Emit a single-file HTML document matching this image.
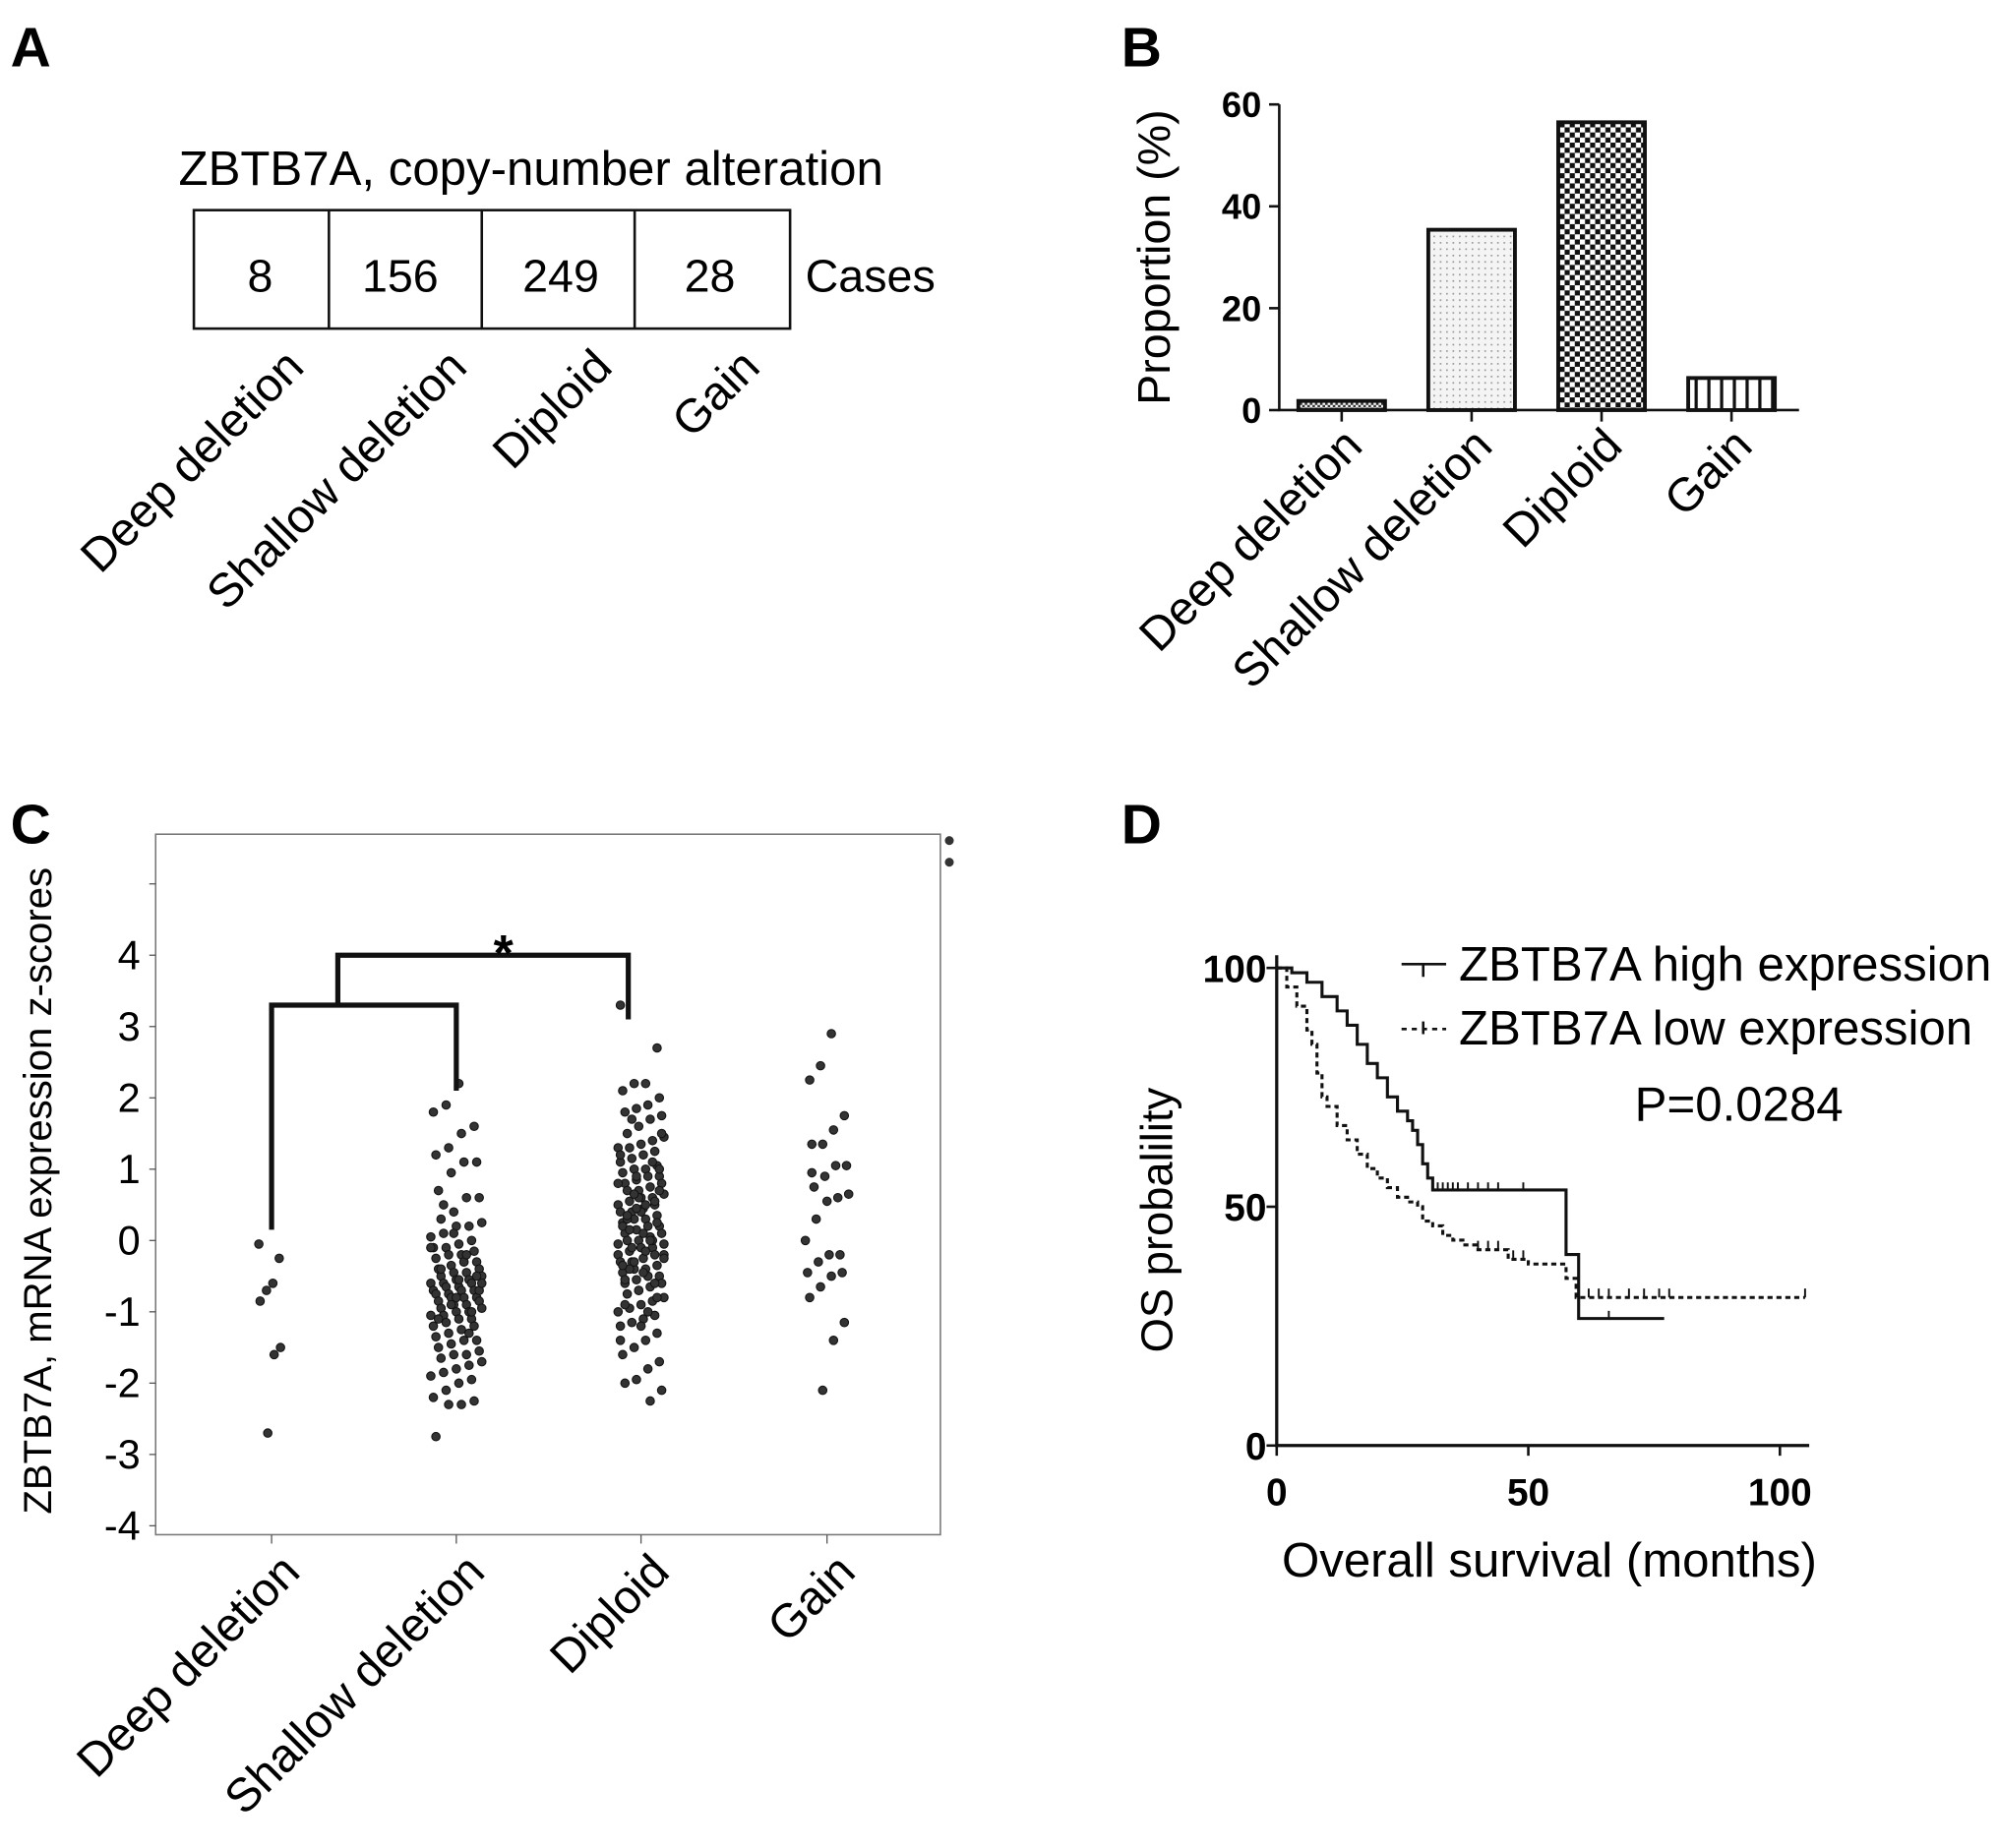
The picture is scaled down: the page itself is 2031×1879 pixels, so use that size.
<!DOCTYPE html>
<html><head><meta charset="utf-8"><style>
html,body{margin:0;padding:0;background:#fff;}
svg{display:block;font-family:"Liberation Sans",Arial,sans-serif;}
</style></head><body>
<svg id="fig" width="2031" height="1879" viewBox="0 0 1568 1451" xmlns="http://www.w3.org/2000/svg">
<defs>
<pattern id="pDeep" width="4" height="4" patternUnits="userSpaceOnUse"><rect width="4" height="4" fill="#fff"/><rect width="2" height="2" fill="#333"/><rect x="2" y="2" width="2" height="2" fill="#333"/></pattern>
<pattern id="pDots" width="5" height="5" patternUnits="userSpaceOnUse"><rect width="5" height="5" fill="#f4f4f4"/><rect width="1.3" height="1.3" fill="#999"/></pattern>
<pattern id="pCheck" width="8" height="8" patternUnits="userSpaceOnUse"><rect width="8" height="8" fill="#fff"/><rect width="4" height="4" fill="#111"/><rect x="4" y="4" width="4" height="4" fill="#111"/></pattern>
<pattern id="pStripe" width="10" height="10" patternUnits="userSpaceOnUse"><rect width="10" height="10" fill="#fff"/><rect width="2.5" height="10" fill="#111"/></pattern>
</defs>

<!-- Panel A -->
<g>
<text x="8" y="52" font-size="44" font-weight="bold">A</text>
<text x="140" y="145" font-size="38">ZBTB7A, copy-number alteration</text>
<rect x="152" y="165" width="468" height="93" fill="none" stroke="#111" stroke-width="2"/>
<line x1="258" y1="165" x2="258" y2="258" stroke="#111" stroke-width="2"/>
<line x1="378" y1="165" x2="378" y2="258" stroke="#111" stroke-width="2"/>
<line x1="498" y1="165" x2="498" y2="258" stroke="#111" stroke-width="2"/>
<g font-size="36" text-anchor="middle">
<text x="204" y="229">8</text>
<text x="314" y="229">156</text>
<text x="440" y="229">249</text>
<text x="557" y="229">28</text>
</g>
<text x="632" y="229" font-size="36">Cases</text>
<g font-size="37" text-anchor="end">
<text transform="translate(240,290) rotate(-45)">Deep deletion</text>
<text transform="translate(368,290) rotate(-45)">Shallow deletion</text>
<text transform="translate(482,290) rotate(-45)">Diploid</text>
<text transform="translate(598,290) rotate(-45)">Gain</text>
</g>
</g>

<!-- Panel B -->
<g id="panelB">
<text x="880" y="52" font-size="44" font-weight="bold">B</text>
<text transform="translate(918,202) rotate(-90)" font-size="36" text-anchor="middle">Proportion (%)</text>
</g>

<!-- Panel C -->
<g id="panelC">
<text x="8" y="662" font-size="44" font-weight="bold">C</text>
<rect x="122" y="655" width="616" height="550" fill="none" stroke="#777" stroke-width="1.2"/>
<text transform="translate(40,935) rotate(-90)" font-size="31" text-anchor="middle">ZBTB7A, mRNA expression z-scores</text>
<circle cx="745" cy="660" r="3.5" fill="#333"/><circle cx="745" cy="677" r="3.5" fill="#333"/>
</g>

<!-- Panel D -->
<g id="panelD">
<text x="880" y="662" font-size="44" font-weight="bold">D</text>
<text transform="translate(920,958) rotate(-90)" font-size="35" text-anchor="middle">OS probalility</text>
<text x="1216" y="1238" font-size="38" text-anchor="middle">Overall survival (months)</text>
<g>
<line x1="1100" y1="757" x2="1135" y2="757" stroke="#111" stroke-width="2"/><line x1="1117" y1="757" x2="1117" y2="767" stroke="#111" stroke-width="2"/>
<text x="1145" y="770" font-size="38">ZBTB7A high expression</text></g>
<g>
<line x1="1100" y1="808" x2="1135" y2="808" stroke="#111" stroke-width="2" stroke-dasharray="4,4"/><line x1="1117" y1="802" x2="1117" y2="812" stroke="#111" stroke-width="2"/>
<text x="1145" y="820" font-size="38">ZBTB7A low expression</text></g>
<text x="1283" y="880" font-size="38">P=0.0284</text>
</g>
</svg>
<script>
const NS="http://www.w3.org/2000/svg";
const svg=document.getElementById('fig');
function mk(tag,attrs,parent){const e=document.createElementNS(NS,tag);for(const k in attrs)e.setAttribute(k,attrs[k]);(parent||svg).appendChild(e);return e;}

// ---- Panel B data ----
const bCategories=["Deep deletion","Shallow deletion","Diploid","Gain"];
const bValues=[1.8,35.4,56.5,6.3];
const bTicks=[0,20,40,60];
const bFills=["url(#pDeep)","url(#pDots)","url(#pCheck)","url(#pStripe)"];

// ---- Panel C data ----
const cCategories=["Deep deletion","Shallow deletion","Diploid","Gain"];
const cTicks=[4,3,2,1,0,-1,-2,-3,-4];
const cDeep=[-0.05,-0.25,-0.6,-0.7,-0.85,-1.5,-1.6,-2.7];
const cShallow=[2.2,1.9,1.8,1.6,1.5,1.3,1.2,1.1,1.1,0.95,0.7,0.6,0.6,0.4,0.3,0.25,0.2,0.2,0.1,0.05,0.0,-0.05,-0.1,-0.1,-0.15,-0.2,-0.2,-0.25,-0.3,-0.3,-0.35,-0.4,-0.4,-0.45,-0.45,-0.5,-0.5,-0.55,-0.55,-0.6,-0.6,-0.6,-0.65,-0.65,-0.7,-0.7,-0.7,-0.75,-0.75,-0.8,-0.8,-0.8,-0.85,-0.85,-0.9,-0.9,-0.95,-0.95,-1.0,-1.0,-1.05,-1.05,-1.1,-1.1,-1.15,-1.2,-1.2,-1.25,-1.3,-1.35,-1.4,-1.4,-1.45,-1.5,-1.55,-1.6,-1.6,-1.65,-1.7,-1.75,-1.8,-1.85,-1.9,-1.95,-2.0,-2.1,-2.2,-2.25,-2.3,-2.3,-2.75,-0.5,-0.3,-0.9,-1.1,-0.7,-0.2,0.1,-0.4,-0.6,-1.3,-0.8,0.5,-0.1,-1.0,-0.55];
const cDiploid=[3.3,2.7,2.2,2.2,2.1,2.0,1.9,1.85,1.8,1.75,1.7,1.6,1.5,1.45,1.4,1.35,1.3,1.3,1.25,1.2,1.15,1.1,1.05,1.0,1.0,0.95,0.9,0.9,0.85,0.8,0.8,0.75,0.7,0.7,0.65,0.6,0.6,0.55,0.5,0.5,0.45,0.4,0.4,0.35,0.3,0.3,0.25,0.2,0.2,0.15,0.1,0.1,0.05,0.0,0.0,-0.05,-0.1,-0.1,-0.15,-0.2,-0.2,-0.25,-0.3,-0.3,-0.35,-0.4,-0.4,-0.45,-0.5,-0.5,-0.55,-0.6,-0.6,-0.65,-0.7,-0.75,-0.8,-0.85,-0.9,-0.95,-1.0,-1.05,-1.1,-1.15,-1.2,-1.3,-1.4,-1.5,-1.6,-1.7,-1.8,-1.95,-2.0,-2.1,-2.25,0.6,0.3,-0.2,0.0,0.4,-0.4,0.8,-0.6,0.1,-0.1,1.2,-0.8,0.5,-0.3,0.2,0.7,-0.5,0.9,-0.9,1.5,0.0,-0.7,0.35,-0.25,1.1,-1.2,0.15,-0.05,0.55,-0.45,1.7,-1.4,0.25,-0.15,0.65,-0.35,1.0,-1.0,0.45,-0.55];
const cGain=[2.9,2.45,2.25,1.75,1.55,1.35,1.35,1.05,1.05,0.9,0.75,0.65,0.6,0.55,0.3,0.0,-0.2,-0.2,-0.3,-0.45,-0.45,-0.5,-0.65,-0.8,-1.15,-1.4,-2.1,0.95];

// ---- Panel D data ----
const dTicksY=[0,50,100];
const dTicksX=[0,50,100];
const highMonths=[0,3,6,9,12,14,16,18,20,22,24,26,27,28,29,30,31,57.5,60,77];
const highSurv=[100,99,97,94,91,88,84,80,77,73,70,68,66,63,59,56,53.5,40,26.6,26.6];
const lowMonths=[0,2,4,6,7,8,9,10,12,14,16,18,20,22,24,26,28,29,31,33,35,37,40,46,50,57.5,59.5,105];
const lowSurv=[100,96,92,87,84,78,73,71,67,64,61,58,56,54,52,51,50,47,46,44,43,42,41,39,38,35,31,31];
const highCensor=[31,32,33,34,35,36,38,40,42,44,49,66];
const lowCensor=[40,42,44,47,49,62,64,66,70,73,76,78,105];

// ===== Panel B draw =====
(function(){
  const g=document.getElementById('panelB');
  const x0=1004,x1=1412,yTop=82,yBot=322,vmax=60;
  const ys=v=>yBot-(v/vmax)*(yBot-yTop);
  const slot=(x1-x0)/bCategories.length, bw=68;
  bValues.forEach((v,i)=>{
    const cx=x0+slot*(i+0.5)-2;
    const r=mk('rect',{x:cx-bw/2,y:ys(v),width:bw,height:yBot-ys(v),fill:bFills[i],stroke:'#111','stroke-width':3},g);
    
    
    mk('line',{x1:cx,y1:yBot,x2:cx,y2:yBot+9,stroke:'#111','stroke-width':2},g);
    const t=mk('text',{transform:`translate(${cx+18},${yBot+30}) rotate(-45)`,'font-size':37,'text-anchor':'end'},g);
    t.textContent=bCategories[i];
    
    
  });
  const ax=mk('path',{d:`M${x0},${yTop} V${yBot} H${x1}`,fill:'none',stroke:'#111','stroke-width':2},g);
  
  
  bTicks.forEach(v=>{
    mk('line',{x1:x0-8,y1:ys(v),x2:x0,y2:ys(v),stroke:'#111','stroke-width':2},g);
    const t=mk('text',{x:x0-14,y:ys(v)+10,'font-size':28,'font-weight':'bold','text-anchor':'end'},g);
    t.textContent=v;
    
    
  });
})();

// ===== Panel C draw =====
(function(){
  const g=document.getElementById('panelC');
  const y0=974, unit=56;
  const ys=v=>y0-v*unit;
  const xs=[213,358,503,649];
  cTicks.forEach(v=>{
    mk('line',{x1:117,y1:ys(v),x2:122,y2:ys(v),stroke:'#555','stroke-width':1},g);
    const t=mk('text',{x:110,y:ys(v)+11,'font-size':32,'text-anchor':'end'},g);
    t.textContent=v;
    
    
  });
  mk('line',{x1:117,y1:ys(5),x2:122,y2:ys(5),stroke:'#555','stroke-width':1},g);
  cCategories.forEach((c,i)=>{
    mk('line',{x1:xs[i],y1:1205,x2:xs[i],y2:1212,stroke:'#555','stroke-width':1},g);
    const t=mk('text',{transform:`translate(${xs[i]+24},${1236}) rotate(-45)`,'font-size':37,'text-anchor':'end'},g);
    t.textContent=c;
    
    
  });
  const sets=[cDeep,cShallow,cDiploid,cGain];
  const widths=[10,20,18,17];
  sets.forEach((arr,k)=>{
    arr.forEach((v,i)=>{
      const off=(((i*37+k*11)%21)-10)/10*widths[k];
      const c=mk('circle',{cx:xs[k]+off,cy:ys(v),r:3.3,fill:'#333',stroke:'#111','stroke-width':0.8},g);
      
      
    });
  });
  const br=mk('path',{d:`M213,${ys(0.15)} V${ys(3.3)} H358 V${ys(2.1)} M265,${ys(3.3)} V${ys(4.0)} H493 V${ys(3.1)}`,fill:'none',stroke:'#111','stroke-width':4},g);
  
  
  const st=mk('text',{x:395,y:ys(4.0)+12,'font-size':40,'font-weight':'bold','text-anchor':'middle'},g);
  st.textContent='*';
  
  
})();

// ===== Panel D draw =====
(function(){
  const g=document.getElementById('panelD');
  const x0=1002,yB=1135,yT=760,xEnd=1420;
  const xs=m=>x0+m*3.95;
  const ys=p=>yB-p/100*(yB-yT);
  const ax=mk('path',{d:`M${x0},${yT-10} V${yB} H${xEnd}`,fill:'none',stroke:'#111','stroke-width':2.5},g);
  
  
  dTicksY.forEach(v=>{
    mk('line',{x1:x0-8,y1:ys(v),x2:x0,y2:ys(v),stroke:'#111','stroke-width':2},g);
    const t=mk('text',{x:x0-8,y:ys(v)+11,'font-size':30,'font-weight':'bold','text-anchor':'end'},g);
    t.textContent=v;
    
    
  });
  dTicksX.forEach(v=>{
    mk('line',{x1:xs(v),y1:yB,x2:xs(v),y2:yB+8,stroke:'#111','stroke-width':2},g);
    const t=mk('text',{x:xs(v),y:yB+47,'font-size':30,'font-weight':'bold','text-anchor':'middle'},g);
    t.textContent=v;
    
    
  });
  function step(ms,ss){let d=`M${xs(ms[0])},${ys(ss[0])}`;for(let i=1;i<ms.length;i++){d+=` H${xs(ms[i])} V${ys(ss[i])}`;}return d;}
  function survAt(ms,ss,m){let s=ss[0];for(let i=0;i<ms.length;i++){if(ms[i]<=m)s=ss[i];}return s;}
  const h=mk('path',{d:step(highMonths,highSurv),fill:'none',stroke:'#111','stroke-width':2.4},g);
  
  
  const l=mk('path',{d:step(lowMonths,lowSurv),fill:'none',stroke:'#111','stroke-width':2.4,'stroke-dasharray':'4,3'},g);
  
  
  highCensor.forEach(m=>{const y=ys(survAt(highMonths,highSurv,m));const c=mk('line',{x1:xs(m),y1:y-6,x2:xs(m),y2:y,stroke:'#111','stroke-width':1.5},g);});
  lowCensor.forEach(m=>{const y=ys(survAt(lowMonths,lowSurv,m));const c=mk('line',{x1:xs(m),y1:y-7,x2:xs(m),y2:y,stroke:'#111','stroke-width':1.5},g);});
})();
</script>
</body></html>
